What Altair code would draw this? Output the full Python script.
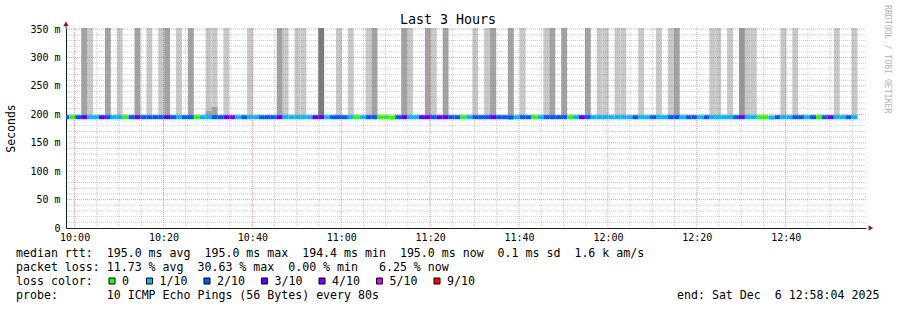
import altair as alt
import pandas as pd

# ---------------- values ----------------
graph_start = "09:58:04"
graph_end = "12:58:04"
first_step_end = "09:58:49"
step_seconds = 80

# pings lost (out of 10) for every 80 s step, oldest first
loss_per_step = [
    2, 0, 2, 3, 1, 1, 3, 2, 1, 1, 0, 2, 3, 2, 2, 2, 2, 3, 2, 1, 2, 2, 0, 1, 1, 2, 2, 3, 4, 1,
    2, 1, 1, 2, 2, 2, 3, 1, 1, 1, 1, 1, 3, 3, 1, 2,
    2, 2, 1, 0, 1, 2, 2, 0, 0, 0, 2, 3, 1, 1, 3, 3, 2, 3, 3, 2, 2, 0, 1, 2, 2, 2, 3, 2, 2, 2,
    1, 2, 2, 0, 1, 2, 2, 2, 2, 0, 1, 3, 2, 1, 1,
    1, 1, 1, 1, 1, 2, 1, 1, 2, 1, 1, 2, 2, 1, 2, 2, 1, 2, 1, 1, 1, 1, 2, 3, 1, 1, 0, 0, 1, 2,
    1, 1, 2, 2, 1, 2, 0, 2, 3, 1, 1, 2, 1,
]
median_ms = 195.0
median_low_ms = 194.4
median_low_steps = [55, 75, 119]

# smoke (ping spread) per step: steps whose pings reach beyond the top
smoke_bottom_ms = 195.0
smoke_top_ms = 420.0
smoke_light_steps = [4, 9, 14, 16, 19, 24, 25, 27, 31, 37, 39, 40, 46, 48, 51, 58, 62, 69, 71,
                     77, 81, 90, 91, 93, 94, 97, 100, 102, 109, 110, 112, 115, 116, 121, 123,
                     130, 133]
smoke_medium_steps = [3, 7, 12, 17, 21, 36, 52, 57, 61, 64, 72, 75, 82, 84, 88, 103]
smoke_mediumdark_steps = [114]
smoke_dark_steps = [43]
smoke_short_steps = [24, 25]
smoke_short_tops_ms = [206.0, 213.0]

loss_keys = ["0", "1", "2", "3", "4", "5", "9"]
loss_labels = ["0", "1/10", "2/10", "3/10", "4/10", "5/10", "9/10"]
loss_colors = ["#26ff00", "#00b8ff", "#0059ff", "#5e00ff", "#7e00ff", "#dd00ff", "#ff0000"]

shade_names = ["light", "medium", "mediumdark", "dark"]
shade_colors = ["#c9c9c9", "#a3a3a3", "#999999", "#7a7a7a"]

x_tick_labels = ["10:00", "10:20", "10:40", "11:00", "11:20", "11:40", "12:00", "12:20", "12:40"]
y_tick_values = [0, 50, 100, 150, 200, 250, 300, 350]
y_tick_labels = ["0", "50 m", "100 m", "150 m", "200 m", "250 m", "300 m", "350 m"]

title_text = "Last 3 Hours"
y_title = "Seconds"
legend_rtt = "median rtt:  195.0 ms avg  195.0 ms max  194.4 ms min  195.0 ms now  0.1 ms sd  1.6 k am/s"
legend_loss = "packet loss: 11.73 % avg  30.63 % max  0.00 % min   6.25 % now"
legend_color_title = "loss color:"
legend_probe = "probe:       10 ICMP Echo Pings (56 Bytes) every 80s"
legend_end = "end: Sat Dec  6 12:58:04 2025"
watermark = "RRDTOOL / TOBI OETIKER"

# ---------------- build tables ----------------
MONO = "DejaVu Sans Mono"


def minutes(s):
    parts = [int(p) for p in s.split(":")]
    return parts[0] * 60 + parts[1] + (parts[2] / 60 if len(parts) > 2 else 0)


t0 = minutes(graph_start)
t_span = minutes(graph_end) - t0
first_end = minutes(first_step_end) - t0
step_min = step_seconds / 60.0


def step_bounds(j):
    end = first_end + step_min * j
    return max(end - step_min, 0.0), end


line_rows = []
for j, lv in enumerate(loss_per_step):
    s, e = step_bounds(j)
    line_rows.append({"start": s, "end": e, "loss": str(lv),
                      "median": median_low_ms if j in median_low_steps else median_ms})
line_df = pd.DataFrame(line_rows)

smoke_rows = []
for name, steps in zip(shade_names, [smoke_light_steps, smoke_medium_steps,
                                      smoke_mediumdark_steps, smoke_dark_steps]):
    for j in steps:
        s, e = step_bounds(j)
        smoke_rows.append({"start": s, "end": e, "lo": smoke_bottom_ms, "hi": smoke_top_ms, "shade": name})
for j, top in zip(smoke_short_steps, smoke_short_tops_ms):
    s, e = step_bounds(j)
    smoke_rows.append({"start": s, "end": e, "lo": smoke_bottom_ms, "hi": top, "shade": "medium"})
smoke_df = pd.DataFrame(smoke_rows)

x_tick_values = [round(minutes(l) - t0, 4) for l in x_tick_labels]
minor_x = [x_tick_values[0] + 5 * k for k in range(0, 40) if x_tick_values[0] + 5 * k < t_span]
major_x = [v for v in minor_x if any(abs(v - m) < 1e-6 for m in x_tick_values)]
minor_x = [v for v in minor_x if v not in major_x]
minor_y = [v for v in range(10, 351, 10) if v % 50 != 0]
major_y = [v for v in y_tick_values if v > 0]

Y_TOP = 352
xscale = alt.Scale(domain=[0, t_span], nice=False, zero=False)
yscale = alt.Scale(domain=[0, Y_TOP], nice=False, zero=False)

x_label_expr = f"{x_tick_labels}[indexof({x_tick_values}, round(datum.value*10000)/10000)]"
y_label_expr = f"{y_tick_labels}[indexof({y_tick_values}, datum.value)]"

smoke = alt.Chart(smoke_df).mark_rect(clip=True).encode(
    x=alt.X("start:Q", scale=xscale,
            axis=alt.Axis(values=x_tick_values, labelExpr=x_label_expr,
                          grid=False, ticks=False, title=None, labelFont=MONO, labelFontSize=10,
                          labelColor="#000000", labelPadding=4, labelFlush=False,
                          labelOverlap=False, domainColor="#1f1f1f", domainWidth=1)),
    x2="end:Q",
    y=alt.Y("lo:Q", scale=yscale,
            axis=alt.Axis(values=y_tick_values, labelExpr=y_label_expr, grid=False, ticks=False,
                          labelFont=MONO, labelFontSize=10, labelColor="#000000", labelPadding=6,
                          labelFlush=False, labelOverlap=False, domainColor="#1f1f1f", domainWidth=1,
                          title=y_title, titleFont=MONO, titleFontSize=11.5,
                          titleFontWeight="normal", titleColor="#000000", titleAngle=270,
                          titleX=-55, titleY=100, titleAlign="center", titleBaseline="middle")),
    y2="hi:Q",
    color=alt.Color("shade:N", scale=alt.Scale(domain=shade_names, range=shade_colors), legend=None),
)

median = alt.Chart(line_df).mark_rule(strokeWidth=4, clip=True).encode(
    x=alt.X("start:Q", scale=xscale, axis=None),
    x2="end:Q",
    y=alt.Y("median:Q", scale=yscale, axis=None),
    color=alt.Color("loss:N", scale=alt.Scale(domain=loss_keys, range=loss_colors), legend=None),
)


def vgrid(vals, color, opacity):
    return alt.Chart(pd.DataFrame({"v": vals})).mark_rule(
        stroke=color, strokeOpacity=opacity, strokeWidth=1, strokeDash=[1, 1]
    ).encode(x=alt.X("v:Q", scale=xscale, axis=None))


def hgrid(vals, color, opacity):
    return alt.Chart(pd.DataFrame({"v": vals})).mark_rule(
        stroke=color, strokeOpacity=opacity, strokeWidth=1, strokeDash=[1, 1]
    ).encode(y=alt.Y("v:Q", scale=yscale, axis=None))


grids = [
    vgrid(minor_x, "#8f8f8f", 0.45),
    hgrid(minor_y, "#8f8f8f", 0.45),
    vgrid(major_x, "#e05050", 0.55),
    hgrid(major_y, "#e05050", 0.55),
]

one = pd.DataFrame({"k": [0]})
y_ext = alt.Chart(one).mark_rule(color="#1f1f1f", strokeWidth=1, clip=False).encode(
    x=alt.XDatum(0, scale=xscale, axis=None),
    y=alt.YDatum(Y_TOP, scale=yscale, axis=None),
    y2=alt.Y2Datum(358),
)
arrow_up = alt.Chart(one).mark_point(shape="triangle-up", filled=True, color="#801f1f",
                                      size=28, opacity=1, clip=False).encode(
    x=alt.XDatum(0, scale=xscale, axis=None),
    y=alt.YDatum(359.5, scale=yscale, axis=None),
)
arrow_right = alt.Chart(one).mark_point(shape="triangle-right", filled=True, color="#801f1f",
                                         size=28, opacity=1, clip=False).encode(
    x=alt.XDatum(t_span + 1.1, scale=xscale, axis=None),
    y=alt.YDatum(0, scale=yscale, axis=None),
)


def text_layer(txt, x, y, size=11.6, align="left", color="#000000", angle=0):
    return alt.Chart(pd.DataFrame({"label": [txt.replace(" ", "\u00a0")]})).mark_text(
        align=align, baseline="middle", font=MONO, fontSize=size, color=color, angle=angle
    ).encode(text="label:N", x=alt.value(x), y=alt.value(y))


texts = [
    text_layer(title_text, 382, -8, size=13.3, align="center"),
    text_layer(legend_rtt, -50, 226),
    text_layer(legend_loss, -50, 240),
    text_layer(legend_color_title, -50, 254),
    text_layer(legend_probe, -50, 268),
    text_layer(legend_end, 611, 268),
    text_layer(watermark, 821, -23, size=8.2, color="#b4b4b4", angle=90),
]

legend_df = pd.DataFrame({"label": loss_labels, "c": loss_colors, "i": list(range(len(loss_labels)))})
legend_boxes = alt.Chart(legend_df).transform_calculate(
    px="datum.i == 0 ? 46 : 83.5 + 57.5 * (datum.i - 1)"
).mark_square(size=36, filled=True, stroke="#000000", strokeWidth=1, opacity=1).encode(
    x=alt.X("px:Q", scale=None, axis=None),
    y=alt.value(253),
    fill=alt.Fill("c:N", scale=None, legend=None),
)
legend_text = alt.Chart(legend_df).transform_calculate(
    px="(datum.i == 0 ? 46 : 83.5 + 57.5 * (datum.i - 1)) + 10"
).mark_text(align="left", baseline="middle", font=MONO, fontSize=11.6, color="#000000").encode(
    x=alt.X("px:Q", scale=None, axis=None),
    y=alt.value(254),
    text="label:N",
)

chart = alt.layer(
    smoke, median, *grids, y_ext, arrow_up, arrow_right, *texts, legend_boxes, legend_text
).resolve_scale(color="independent", fill="independent").resolve_axis(
    x="independent", y="independent"
).properties(
    width=800, height=200,
    padding={"left": 66, "top": 28, "right": 31, "bottom": 82},
    autosize=alt.AutoSizeParams(type="none"),
    background="#ffffff",
).configure_view(stroke=None)

chart.save("out.html", embed_options={"renderer": "svg", "actions": False})
